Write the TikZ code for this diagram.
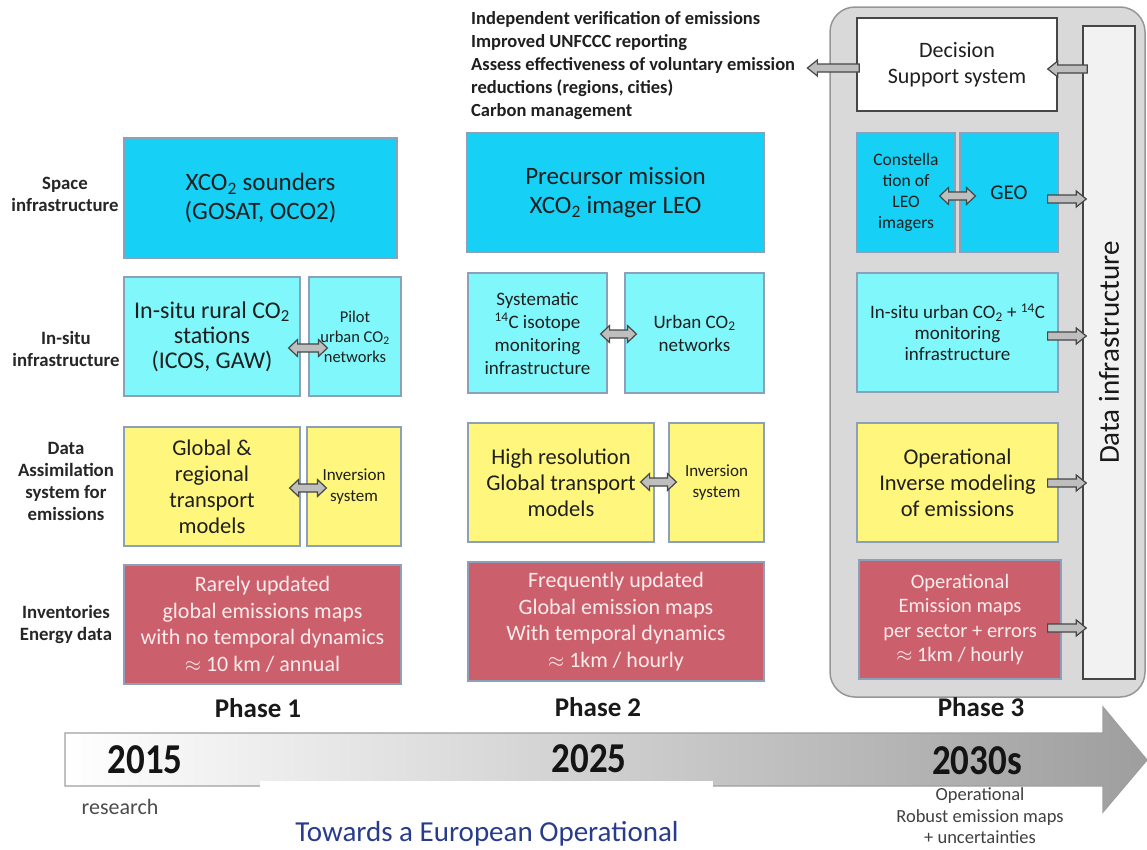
\documentclass[tikz,border=0pt]{standalone}
\usepackage{fontspec}
\setmainfont{Carlito}
\usetikzlibrary{calc}
\definecolor{spacecyan}{RGB}{22,208,245}
\definecolor{insitucyan}{RGB}{128,247,250}
\definecolor{modelyellow}{RGB}{255,246,125}
\definecolor{invred}{RGB}{203,95,108}
\definecolor{redtext}{RGB}{252,236,236}
\definecolor{boxedge}{RGB}{140,160,185}
\definecolor{phasegray}{RGB}{217,217,217}
\definecolor{phaseedge}{RGB}{150,150,150}
\definecolor{arrowfill}{RGB}{190,190,190}
\definecolor{arrowedge}{RGB}{70,70,70}
\definecolor{euroblue}{RGB}{40,60,140}
\definecolor{bargray}{RGB}{158,158,158}
\tikzset{%
  box/.style={draw=boxedge, line width=1.2pt, inner sep=1pt, align=center, text=black!88},
  spacebox/.style={box, fill=spacecyan},
  situbox/.style={box, fill=insitucyan},
  modelbox/.style={box, fill=modelyellow},
  mapbox/.style={box, fill=invred, text=redtext},
  rowlabel/.style={align=center, text=black!85, font=\bfseries\fontsize{18.8}{22}\selectfont},
  phaselabel/.style={text=black!90, font=\bfseries\fontsize{27}{30}\selectfont},
  yearlabel/.style={text=black!92, yscale=1.15, font=\bfseries\fontsize{37}{40}\selectfont},
  blockarr/.style={draw=arrowedge, fill=arrowfill, line width=1.2pt,
    to path={let \p1=(\tikztostart), \p2=(\tikztotarget), \n1={sign(\x2-\x1)} in
      (\x1,\y1+4pt) -- ({\x2-(\n1)*10pt},\y1+4pt) -- ({\x2-(\n1)*10pt},\y1+8pt) -- (\x2,\y1)
      -- ({\x2-(\n1)*10pt},\y1-8pt) -- ({\x2-(\n1)*10pt},\y1-4pt) -- (\x1,\y1-4pt) -- cycle}},
  dblarr/.style={draw=arrowedge, fill=arrowfill, line width=1.2pt,
    to path={let \p1=(\tikztostart), \p2=(\tikztotarget), \n1={sign(\x2-\x1)} in
      (\x1,\y1) -- ({\x1+(\n1)*9pt},\y1+8.5pt) -- ({\x1+(\n1)*9pt},\y1+4pt)
      -- ({\x2-(\n1)*9pt},\y1+4pt) -- ({\x2-(\n1)*9pt},\y1+8.5pt) -- (\x2,\y1)
      -- ({\x2-(\n1)*9pt},\y1-8.5pt) -- ({\x2-(\n1)*9pt},\y1-4pt)
      -- ({\x1+(\n1)*9pt},\y1-4pt) -- ({\x1+(\n1)*9pt},\y1-8.5pt) -- cycle}}
}

\begin{document}
\begin{tikzpicture}[x=1pt,y=-1pt]
\useasboundingbox (0,0) rectangle (1147,849);
% timeline
\draw[draw=gray!75, line width=1.2pt, left color=white, right color=bargray]
  (65,733) -- (1103,733) -- (1103,707) -- (1147,760) -- (1103,812) -- (1103,786) -- (65,786) -- cycle;
\fill[white] (260,781) rectangle (713,795);
% phase 3 frame
\node[draw=phaseedge, fill=phasegray, line width=1.5pt, rounded corners=25pt,
  minimum width=315pt, minimum height=690pt] (ph3) at (987.5,352) {};
\node[draw=arrowedge, fill=black!5, line width=1.5pt, rotate=90, minimum width=653pt,
  minimum height=52pt, text=black!90, font=\fontsize{29}{32}\selectfont] (dinfra) at (1109,352.5) {Data infrastructure};
\node[draw=arrowedge, fill=white, line width=1.5pt, minimum width=200pt, minimum height=93pt, align=center,
  text=black!88, font=\fontsize{22}{26}\selectfont] (dss) at (957,64.5) {Decision\\Support system};
% row labels
\node[rowlabel] (labspace) at (65,194) {Space\\infrastructure};
\node[rowlabel] (labsitu) at (66,349) {In-situ\\infrastructure};
\node[rowlabel] (labda) at (66,481) {Data\\Assimilation\\system for\\emissions};
\node[rowlabel] (labinv) at (66,624) {Inventories\\Energy data};
% goals
\node[anchor=west, inner sep=0pt, align=left, text=black!88,
  font=\bfseries\fontsize{18.5}{23}\selectfont] (goals) at (471,66)
  {Independent verification of emissions\\Improved UNFCCC reporting\\Assess effectiveness of voluntary emission\\reductions (regions, cities)\\Carbon management};
% phase 1
\node[spacebox, minimum width=273pt, minimum height=120pt, font=\fontsize{25}{29}\selectfont] (sounders) at (260.5,198)
  {XCO\textsubscript{2} sounders\\(GOSAT, OCO2)};
\node[situbox, minimum width=176pt, minimum height=119pt, font=\fontsize{24}{25}\selectfont] (rural) at (212,336.5)
  {In-situ rural CO\textsubscript{2}\\stations\\(ICOS, GAW)};
\node[situbox, minimum width=92pt, minimum height=119pt, font=\fontsize{16.5}{20}\selectfont] (pilot) at (355,336.5)
  {Pilot\\urban CO\textsubscript{2}\\networks};
\node[modelbox, minimum width=176pt, minimum height=119pt, font=\fontsize{22.5}{26}\selectfont] (glob) at (212,486.5)
  {Global \&\\regional\\transport\\models};
\node[modelbox, minimum width=94pt, minimum height=119pt, font=\fontsize{17}{21}\selectfont] (inv1) at (354,486.5)
  {Inversion\\system};
\node[mapbox, minimum width=277pt, minimum height=119pt, font=\fontsize{22}{26.5}\selectfont] (rare) at (262.5,624.5)
  {Rarely updated\\global emissions maps\\with no temporal dynamics\\$\approx$ 10 km / annual};
% phase 2
\node[spacebox, minimum width=297pt, minimum height=119pt, font=\fontsize{25}{29}\selectfont] (precursor) at (615.5,192.5)
  {Precursor mission\\XCO\textsubscript{2} imager LEO};
\node[situbox, minimum width=139pt, minimum height=120pt, font=\fontsize{19}{23}\selectfont] (syst) at (537.5,333)
  {Systematic\\\textsuperscript{14}C isotope\\monitoring\\infrastructure};
\node[situbox, minimum width=139pt, minimum height=120pt, font=\fontsize{19}{23}\selectfont] (urbco) at (694.5,333)
  {Urban CO\textsubscript{2}\\networks};
\node[modelbox, minimum width=186pt, minimum height=119pt, font=\fontsize{22.5}{26}\selectfont] (high) at (561,482.5)
  {High resolution\\Global transport\\models};
\node[modelbox, minimum width=95pt, minimum height=119pt, font=\fontsize{17}{21}\selectfont] (inv2) at (716.5,482.5)
  {Inversion\\system};
\node[mapbox, minimum width=296pt, minimum height=119pt, font=\fontsize{22}{26.5}\selectfont] (freq) at (616,621.5)
  {Frequently updated\\Global emission maps\\With temporal dynamics\\$\approx$ 1km / hourly};
% phase 3
\node[spacebox, minimum width=98pt, minimum height=119pt, font=\fontsize{17.5}{21}\selectfont] (const) at (906,192.5)
  {Constella\\tion of\\LEO\\imagers};
\node[spacebox, minimum width=98pt, minimum height=119pt, font=\fontsize{21}{24}\selectfont] (geo) at (1009,192.5) {GEO};
\node[situbox, minimum width=201pt, minimum height=119pt, font=\fontsize{19}{21}\selectfont] (urb3) at (957.5,332.5)
  {In-situ urban CO\textsubscript{2} + \textsuperscript{14}C\\monitoring\\infrastructure};
\node[modelbox, minimum width=201pt, minimum height=119pt, font=\fontsize{22.5}{26}\selectfont] (opinv) at (957.5,482.5)
  {Operational\\Inverse modeling\\of emissions};
\node[mapbox, minimum width=202pt, minimum height=119pt, font=\fontsize{20.5}{24.5}\selectfont] (opmap) at (960,619.5)
  {Operational\\Emission maps\\per sector + errors\\$\approx$ 1km / hourly};
% block arrows
\draw[blockarr] ([xshift=5pt,yshift=-4.5pt]dss.east -| dinfra.north) to ([xshift=-10pt]dss.east);
\draw[blockarr] ([xshift=3pt,yshift=-3.5pt]dss.west) to ([xshift=12pt]goals.east);
\draw[blockarr] ([xshift=-11pt,yshift=-6.5pt]geo.east) to ([xshift=4pt]geo.east -| dinfra.north);
\draw[blockarr] ([xshift=-11pt,yshift=-3.5pt]urb3.east) to ([xshift=4pt]urb3.east -| dinfra.north);
\draw[blockarr] ([xshift=-11pt,yshift=-0.5pt]opinv.east) to ([xshift=4pt]opinv.east -| dinfra.north);
\draw[blockarr] ([xshift=-14pt,yshift=-8.5pt]opmap.east) to ([xshift=4pt]opmap.east -| dinfra.north);
\draw[dblarr] ([xshift=-16pt,yshift=-3.5pt]const.east) to ([xshift=16pt]geo.west);
\draw[dblarr] ([xshift=-12pt,yshift=-11.5pt]rural.east) to ([xshift=19pt]pilot.west);
\draw[dblarr] ([xshift=-11pt,yshift=-1.5pt]glob.east) to ([xshift=20pt]inv1.west);
\draw[dblarr] ([xshift=-7pt,yshift=-1pt]syst.east) to ([xshift=12pt]urbco.west);
\draw[dblarr] ([xshift=-14pt,yshift=0.5pt]high.east) to ([xshift=8pt]inv2.west);
% phases and years
\node[phaselabel] (phase1) at (258,708) {Phase 1};
\node[phaselabel] (phase2) at (598,707) {Phase 2};
\node[phaselabel] (phase3) at (981,707) {Phase 3};
\node[yearlabel] (y2015) at (145,760) {2015};
\node[yearlabel] (y2025) at (589,759) {2025};
\node[yearlabel] (y2030) at (977,761) {2030s};
\node[text=black!70, font=\fontsize{22}{24}\selectfont] (research) at (120,807) {research};
\node[align=center, text=black!75, font=\fontsize{18.5}{21.5}\selectfont] (operational) at (980,816)
  {Operational\\Robust emission maps\\+ uncertainties};
\node[text=euroblue, font=\fontsize{29}{32}\selectfont] (towards) at (487,834) {Towards a European Operational};
\end{tikzpicture}
\end{document}
